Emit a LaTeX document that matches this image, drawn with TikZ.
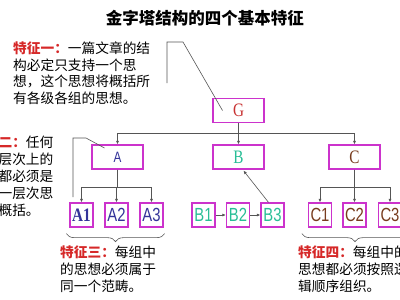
\documentclass[tikz,border=0pt]{standalone}
\usepackage{fontspec}
\usepackage{tikz}
\usetikzlibrary{arrows.meta,decorations.pathreplacing,positioning}

\newfontfamily\cjk{Noto Sans CJK SC}
\newfontfamily\boxsans[FakeStretch=0.78]{Liberation Sans}
\newfontfamily\boxserif[FakeStretch=0.8]{Liberation Serif}

\definecolor{boxEdge}{RGB}{204,51,204}
\definecolor{lineGray}{RGB}{85,85,85}
\definecolor{featRed}{RGB}{214,40,40}
\definecolor{grpA}{RGB}{51,51,153}
\definecolor{grpB}{RGB}{40,190,150}
\definecolor{grpC}{RGB}{120,60,30}
\definecolor{topG}{RGB}{200,50,50}

\begin{document}
\begin{tikzpicture}[
      x=1pt, y=-1pt,
      >={Latex[length=3.5pt,width=3pt]},
      bigBox/.style={
        draw=boxEdge, line width=1.3pt, inner sep=0pt,
        minimum width=51pt, minimum height=24pt,
        font=\boxserif\fontsize{19}{19}\selectfont
      },
      smallBox/.style={
        draw=boxEdge, line width=1.3pt, inner sep=0pt,
        minimum width=23pt, minimum height=24pt,
        font=\boxsans\fontsize{19}{19}\selectfont
      },
      featText/.style={font=\cjk\fontsize{13.7}{17}\selectfont, align=left, inner sep=0pt, anchor=north west},
      arr/.style={->, draw=lineGray, line width=0.6pt},
      lead/.style={-, draw=lineGray, line width=0.6pt},
      brace/.style={draw=lineGray, line width=0.6pt, decorate, decoration={brace, mirror, amplitude=8pt}}
    ]

      % ---------- Khung ----------
      \useasboundingbox (0,0) rectangle (400,300);
      \clip (0,0) rectangle (400,300);
      \fill[white] (0,0) rectangle (400,300);

      % ---------- Tieu de ----------
      \node[font=\cjk\bfseries\fontsize{16.5}{18}\selectfont] (title) at (205,18) {金字塔结构的四个基本特征};

      % ---------- Cac tang ----------
      \node[bigBox, text=topG] (G) at (238.5,110.5) {G};

      \node[bigBox, text=grpA, font=\boxsans\fontsize{15}{15}\selectfont] (A) at (117.5,157) {A};
      \node[bigBox, text=grpB] (B) at (238.5,157) {B};
      \node[bigBox, text=grpC] (C) at (354.5,157) {C};

      \node[smallBox, text=grpA, font=\boxserif\bfseries\fontsize{19}{19}\selectfont] (A1) at (81.5,215) {A1};
      \node[smallBox, text=grpA] (A2) at (116.5,215) {A2};
      \node[smallBox, text=grpA] (A3) at (151.5,215) {A3};

      \node[smallBox, text=grpB] (B1) at (203.5,215) {B1};
      \node[smallBox, text=grpB] (B2) at (238,215)   {B2};
      \node[smallBox, text=grpB] (B3) at (272.5,215) {B3};

      \node[smallBox, text=grpC] (C1) at (320,215)   {C1};
      \node[smallBox, text=grpC] (C2) at (354.5,215) {C2};
      \node[smallBox, text=grpC] (C3) at (390,215)   {C3};

      % ---------- Duong noi ----------
      \draw[arr] (G) -- (B);
      \draw[arr] (G.south) -- ++(0,10) -| (A.north);
      \draw[arr] (G.south) -- ++(0,10) -| (C.north);

      \foreach \k in {1,2,3} {
        \draw[arr] (A.south) -- ++(0,18) -| (A\k.north);
        \draw[arr] (C.south) -- ++(0,18) -| (C\k.north);
      }

      \draw[arr] (B1) -- (B2);
      \draw[arr] (B2) -- (B3);
      \draw[arr] ([xshift=-4pt]B3.north) -- ([xshift=5pt,yshift=-1pt]B.south);

      % ---------- Dau ngoac ----------
      \draw[brace] ([xshift=-3pt,yshift=-6pt]A1.south west) -- ([xshift=1pt,yshift=-6pt]A3.south east);
      \draw[brace] ([xshift=-6pt,yshift=-6pt]C1.south west) -- ([xshift=6pt,yshift=-6pt]C3.south east);

      % ---------- Dac trung ----------
      \node[featText, font=\cjk\fontsize{13.7}{16.5}\selectfont] (feat1) at (13,42)
        {{\color{featRed}\bfseries 特征一：}一篇文章的结\\构必定只支持一个思\\想，这个思想将概括所\\有各级各组的思想。};
      \node[featText] (feat2) at (-29,136)
        {{\color{featRed}\bfseries 特征二：}任何\\一个层次上的\\思想都必须是\\其下一层次思\\想的概括。};
      \node[featText] (feat3) at (60,246)
        {{\color{featRed}\bfseries 特征三：}每组中\\的思想必须属于\\同一个范畴。};
      \node[featText] (feat4) at (298,246)
        {{\color{featRed}\bfseries 特征四：}每组中的\\思想都必须按照逻\\辑顺序组织。};

      % ---------- Duong chi dan ----------
      \coordinate (f1Bot) at (167,83);
      \coordinate (f1Top) at (167,42);
      \coordinate (f1Knee) at (183,42);
      \draw[lead] (f1Bot) -- (f1Top) -- (f1Knee) -- ([xshift=-16pt]G.center);

      \coordinate (f2Bot) at (73,197);
      \coordinate (f2Top) at (73,138);
      \coordinate (f2Knee) at (86,138);
      \draw[lead] (f2Bot) -- (f2Top) -- (f2Knee) -- ([xshift=-13pt,yshift=9pt]A.center);

    \end{tikzpicture}
\end{document}
